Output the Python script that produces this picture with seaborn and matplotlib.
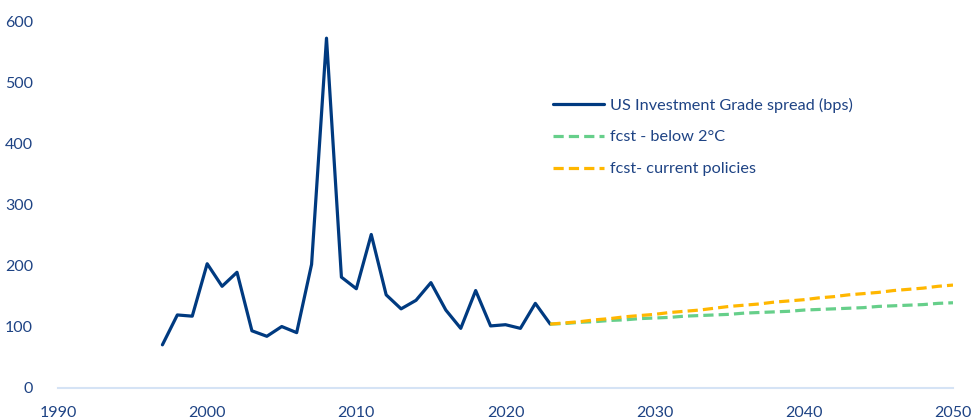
import matplotlib
matplotlib.use("Agg")
import matplotlib.pyplot as plt
import seaborn as sns
import pandas as pd

hist_years = list(range(1997, 2024))
hist_spread = [70, 119, 117, 203, 166, 189, 93, 84, 100, 90, 202, 573, 181, 162,
               251, 152, 129, 143, 172, 127, 97, 159, 101, 103, 97, 138, 104]

fcst_years = list(range(2023, 2051))
fcst_below2 = [104, 105, 107, 108, 110, 111, 113, 114, 115, 117, 118, 119, 120, 122,
               123, 124, 125, 127, 128, 129, 130, 131, 133, 134, 135, 136, 138, 139]
fcst_current = [104, 106, 108, 111, 113, 116, 118, 120, 123, 125, 127, 130, 133, 135,
                137, 140, 142, 144, 147, 149, 152, 154, 156, 159, 161, 163, 166, 168]

labels = ["US Investment Grade spread (bps)", "fcst - below 2°C", "fcst- current policies"]
x_ticks = [1990, 2000, 2010, 2020, 2030, 2040, 2050]
y_ticks = [0, 100, 200, 300, 400, 500, 600]

sns.set_theme(style="white")
plt.rcParams['font.family'] = ['Lato', 'DejaVu Sans']

text_color = "#1E4384"
navy = "#003A80"
green = "#66CF8A"
orange = "#FFB700"

fig = plt.figure(figsize=(9.75, 4.18), dpi=100)
ax = fig.add_axes([58/975, 1 - 387.5/418, (953 - 58)/975, (387.5 - 21.7)/418])

df_hist = pd.DataFrame({"year": hist_years, "value": hist_spread})
df_b2 = pd.DataFrame({"year": fcst_years, "value": fcst_below2})
df_cp = pd.DataFrame({"year": fcst_years, "value": fcst_current})

sns.lineplot(data=df_hist, x="year", y="value", ax=ax, color=navy, linewidth=2.3,
             label=labels[0])
sns.lineplot(data=df_b2, x="year", y="value", ax=ax, color=green, linewidth=2.3,
             label=labels[1])
sns.lineplot(data=df_cp, x="year", y="value", ax=ax, color=orange, linewidth=2.3,
             label=labels[2])
for ln in ax.lines[1:]:
    ln.set_dashes((3.2, 1.6))
    ln.set_solid_capstyle("butt")

ax.set_xlim(1990, 2050)
ax.set_ylim(0, 600)
ax.set_xticks(x_ticks)
ax.set_yticks(y_ticks)
ax.set_xlabel("")
ax.set_ylabel("")
for s in ["top", "right", "left"]:
    ax.spines[s].set_visible(False)
ax.spines["bottom"].set_color("#D5E3F5")
ax.spines["bottom"].set_linewidth(1.5)
ax.tick_params(axis="both", length=0, labelsize=11.5, colors=text_color)
ax.tick_params(axis="x", pad=13)
ax.tick_params(axis="y", pad=18)

leg = ax.legend(loc="upper left", bbox_to_anchor=(546/975, 1 - 91/418),
                bbox_transform=fig.transFigure, frameon=False, fontsize=11.7,
                handlelength=3.15, handletextpad=0.38, labelspacing=1.08,
                borderaxespad=0)
for t in leg.get_texts():
    t.set_color(text_color)
for h in leg.get_lines():
    h.set_linewidth(2.3)

fig.savefig("out.png", dpi=100)
